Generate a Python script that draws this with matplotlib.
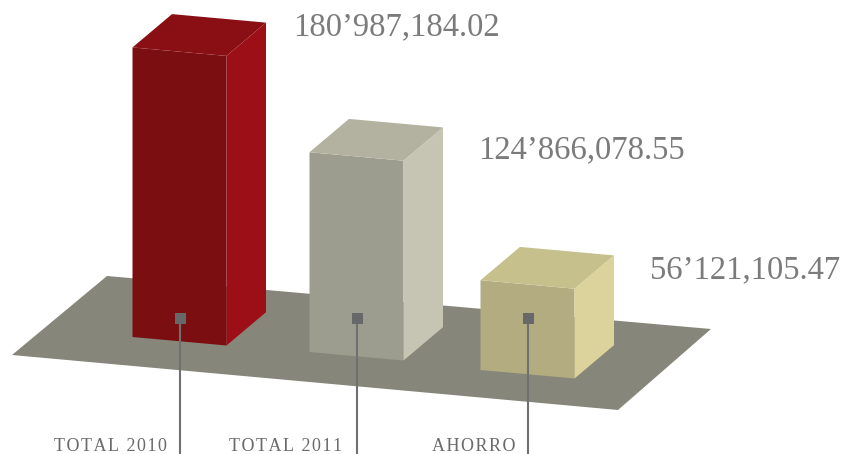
import matplotlib
matplotlib.use("Agg")
import matplotlib.pyplot as plt
from matplotlib.patches import Polygon, Rectangle

# data (millions)
labels = ["TOTAL 2010", "TOTAL 2011", "AHORRO"]
values = [180.98718402, 124.86607855, 56.12110547]
value_text = ["180\u2019987,184.02", "124\u2019866,078.55", "56\u2019121,105.47"]

front_cols = ["#7b0e11", "#9d9d8f", "#b2ac80"]
side_cols = ["#9c0f17", "#c6c5b4", "#dbd39b"]
top_cols = ["#8a0f14", "#b3b2a1", "#c6c18c"]

# layout in pixel coords
px_per_m = 1.6
bar_w = 94
tilt = 8.5            # front face drop across width
dx, dy = 39.5, -33.3  # depth offset
bar_x = [132.5, 309.5, 480.5]
bar_y = [337, 352, 370]
val_pos = [(293, 27), (478, 150), (650, 270)]
label_right = [167, 342, 515]

fig = plt.figure(figsize=(8.42, 4.54), dpi=100)
ax = fig.add_axes([0, 0, 1, 1])
ax.set_xlim(0, 842)
ax.set_ylim(454, 0)
ax.axis("off")

# floor
floor = [(107, 276), (711, 329), (618, 410), (12, 355)]
ax.add_patch(Polygon(floor, closed=True, fc="#86867a", ec="none", zorder=1))

for i, v in enumerate(values):
    h = v * px_per_m
    xl = bar_x[i]
    yb = bar_y[i]
    xr = xl + bar_w
    fbl = (xl, yb)
    fbr = (xr, yb + tilt)
    ftl = (xl, yb - h)
    ftr = (xr, yb + tilt - h)
    btr = (xr + dx, yb + tilt - h + dy)
    bbr = (xr + dx, yb + tilt + dy)
    btl = (xl + dx, yb - h + dy)
    ax.add_patch(Polygon([fbl, fbr, ftr, ftl], fc=front_cols[i], ec="none", zorder=3))
    ax.add_patch(Polygon([fbr, bbr, btr, ftr], fc=side_cols[i], ec="none", zorder=3))
    ax.add_patch(Polygon([ftl, ftr, btr, btl], fc=top_cols[i], ec="none", zorder=3))

    cx = xl + bar_w / 2 + 0.5
    ax.plot([cx, cx], [318, 454], color="#707070", lw=1.5, zorder=4,
            solid_capstyle="butt")
    ax.add_patch(Rectangle((cx - 5.5, 312.5), 11, 11, fc="#67686a", ec="none", zorder=5))

    ax.text(val_pos[i][0], val_pos[i][1], value_text[i], ha="left", va="center",
            fontsize=23.5, family="Liberation Serif", color="#7b7b7b")
    spaced = "\u200a".join(labels[i])
    ax.text(label_right[i], 451, spaced, ha="right", va="baseline",
            fontsize=13, family="Liberation Serif", color="#6a6a6a")

fig.savefig("out.png", dpi=100)
